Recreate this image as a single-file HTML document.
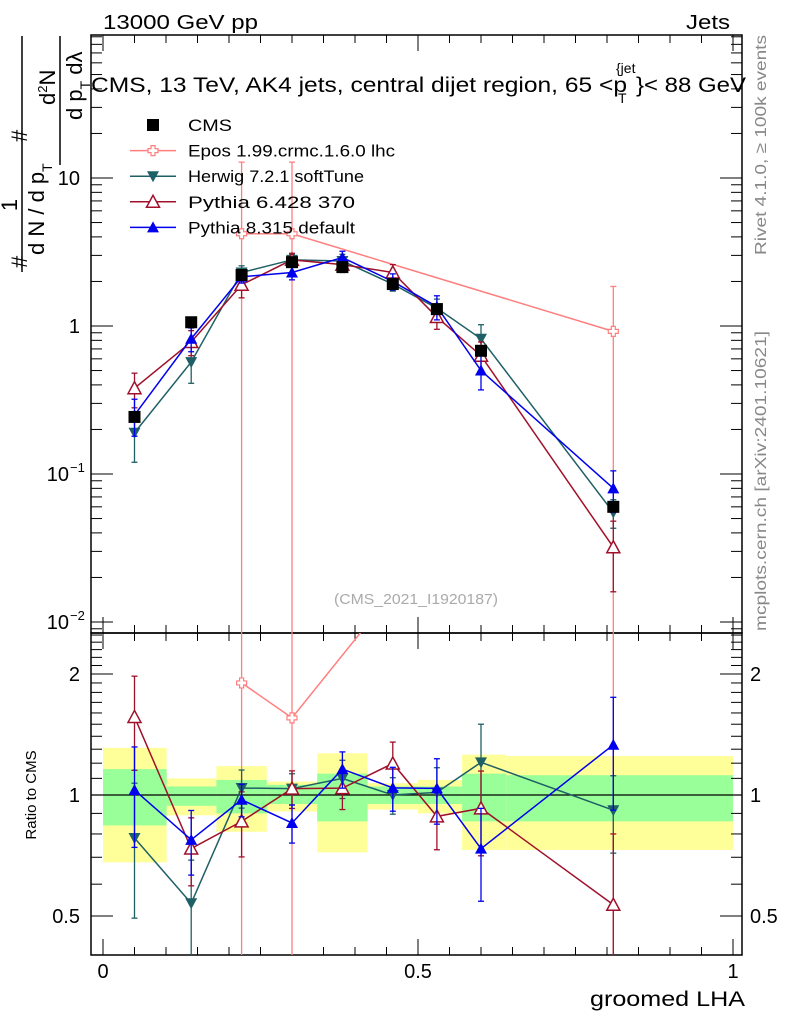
<!DOCTYPE html>
<html><head><meta charset="utf-8"><style>
html,body{margin:0;padding:0;background:#fff;}
svg{display:block;font-family:"Liberation Sans",sans-serif;}
</style></head><body>
<svg id="chart" width="786" height="1024" viewBox="0 0 786 1024" xmlns="http://www.w3.org/2000/svg"></svg>
<script>
const xCenters = [0.05, 0.14, 0.22, 0.30, 0.38, 0.46, 0.53, 0.60, 0.81];
const binEdges = [0, 0.101, 0.18, 0.26, 0.34, 0.42, 0.50, 0.57, 0.64, 1.0];
const cmsVals = [0.243, 1.06, 2.21, 2.7, 2.5, 1.92, 1.3, 0.68, 0.06];
const herwigVals = [0.19, 0.57, 2.3, 2.8, 2.75, 1.92, 1.32, 0.82, 0.055];
const herwigErr = [0.07, 0.16, 0.25, 0.25, 0.3, 0.2, 0.2, 0.2, 0.012];
const py6Vals = [0.38, 0.78, 1.9, 2.8, 2.6, 2.3, 1.15, 0.63, 0.032];
const py6Err = [0.1, 0.15, 0.35, 0.3, 0.3, 0.3, 0.2, 0.15, 0.016];
const py8Vals = [0.25, 0.82, 2.15, 2.3, 2.9, 2.0, 1.35, 0.5, 0.08];
const py8Err = [0.07, 0.15, 0.2, 0.25, 0.3, 0.25, 0.25, 0.13, 0.025];
const eposX = [0.22, 0.30, 0.81];
const eposVals = [4.2, 4.2, 0.92];
const eposUp = [12.8, 12.8, 1.85];
const greenHi = [1.16, 1.05, 1.09, 1.06, 1.13, 1.05, 1.05, 1.13, 1.12];
const greenLo = [0.84, 0.94, 0.90, 0.95, 0.86, 0.95, 0.95, 0.86, 0.86];
const yellowHi = [1.31, 1.10, 1.18, 1.08, 1.27, 1.07, 1.09, 1.26, 1.25];
const yellowLo = [0.68, 0.89, 0.81, 0.91, 0.72, 0.92, 0.90, 0.73, 0.73];
const mainTickVals = [10, 1, 0.1, 0.01];
const mainTickLabels = ["10", "1", "10", "10"];
const mainTickExp = ["", "", "\u22121", "\u22122"];
const ratioTickVals = [2, 1, 0.5];
const ratioTickLabels = ["2", "1", "0.5"];
const xTickVals = [0, 0.5, 1];
const xTickLabels = ["0", "0.5", "1"];

const L=91, R=742, T=35, MB=633, B=955;
const X = v => 103 + 630*v;
const Y = v => 326 - 148*Math.log10(v);
const YR = r => 795 - 121*Math.log2(r);
const NS="http://www.w3.org/2000/svg";
const svg=document.getElementById('chart');
function mk(tag, attrs, parent){const e=document.createElementNS(NS,tag);for(const k in attrs)e.setAttribute(k,attrs[k]);(parent||svg).appendChild(e);return e;}
function txt(s, attrs, parent){const e=mk('text',attrs,parent);e.textContent=s;return e;}

const defs=mk('defs',{});
const c1=mk('clipPath',{id:'cm'},defs);mk('rect',{x:L,y:T,width:R-L,height:MB-T},c1);
const c2=mk('clipPath',{id:'cr'},defs);mk('rect',{x:L,y:MB,width:R-L,height:B-MB},c2);

const bands=mk('g',{'clip-path':'url(#cr)'});


for(let i=0;i<xCenters.length;i++){
  const x0=X(binEdges[i]), x1=X(binEdges[i+1]);
  const ry=mk('rect',{x:x0,y:YR(yellowHi[i]),width:x1-x0,height:YR(yellowLo[i])-YR(yellowHi[i]),fill:'#ffff99'},bands);
  
  
}
for(let i=0;i<xCenters.length;i++){
  const x0=X(binEdges[i]), x1=X(binEdges[i+1]);
  const rg=mk('rect',{x:x0,y:YR(greenHi[i]),width:x1-x0,height:YR(greenLo[i])-YR(greenHi[i]),fill:'#99ff99'},bands);
  
  
}
mk('line',{x1:L,x2:R,y1:YR(1),y2:YR(1),stroke:'#000','stroke-width':1.3});

mk('rect',{x:L,y:T,width:R-L,height:MB-T,fill:'none',stroke:'#000','stroke-width':1.5});
mk('rect',{x:L,y:MB,width:R-L,height:B-MB,fill:'none',stroke:'#000','stroke-width':1.5});

for(let d=-3; d<2; d++){
  for(let m=1;m<10;m++){
    const v=m*Math.pow(10,d); const y=Y(v);
    if(y<T||y>MB) continue;
    const len = m===1?22:11;
    mk('line',{x1:L,x2:L+len,y1:y,y2:y,stroke:'#000','stroke-width':1});
    mk('line',{x1:R,x2:R-len,y1:y,y2:y,stroke:'#000','stroke-width':1});
  }
}
for(let k=4; k<=26; k++){
  const r=k/10;
  const y=YR(r); if(y<MB||y>B) continue;
  const major=(k===5||k===10||k===20);
  const len=major?22:11;
  mk('line',{x1:L,x2:L+len,y1:y,y2:y,stroke:'#000','stroke-width':1});
  mk('line',{x1:R,x2:R-len,y1:y,y2:y,stroke:'#000','stroke-width':1});
}
for(let k=0;k<=20;k++){
  const v=k*0.05; const x=X(v); const major=(k%10===0); const len=major?16:8;
  mk('line',{x1:x,x2:x,y1:B,y2:B-len,stroke:'#000','stroke-width':1});
  mk('line',{x1:x,x2:x,y1:MB,y2:MB-len,stroke:'#000','stroke-width':1});
  mk('line',{x1:x,x2:x,y1:MB,y2:MB+len,stroke:'#000','stroke-width':1});
  mk('line',{x1:x,x2:x,y1:T,y2:T+len,stroke:'#000','stroke-width':1});
}
mainTickVals.forEach((v,i)=>{
  const t=txt(mainTickLabels[i],{x:mainTickExp[i]?69:80,y:Y(v)+7,'font-size':20,'text-anchor':'end'});
  
  
  if(mainTickExp[i]) txt(mainTickExp[i],{x:70,y:Y(v)-2,'font-size':13});
});
ratioTickVals.forEach((v,i)=>{
  const t=txt(ratioTickLabels[i],{x:80,y:YR(v)+7,'font-size':20,'text-anchor':'end'});
  
  
  const t2=txt(ratioTickLabels[i],{x:750,y:YR(v)+7,'font-size':20});
  
  
});
xTickVals.forEach((v,i)=>{
  const t=txt(xTickLabels[i],{x:X(v),y:978,'font-size':20,'text-anchor':'middle'});
  
  
});

function marker(g,type,x,y,color){
  if(type==='sq') mk('rect',{x:x-6,y:y-6,width:12,height:12,fill:color},g);
  else if(type==='dn') mk('polygon',{points:`${x-6},${y-5} ${x+6},${y-5} ${x},${y+6}`,fill:color},g);
  else if(type==='up') mk('polygon',{points:`${x-6},${y+5} ${x+6},${y+5} ${x},${y-6}`,fill:color},g);
  else if(type==='upo') mk('polygon',{points:`${x-6.5},${y+5.5} ${x+6.5},${y+5.5} ${x},${y-6.5}`,fill:'#fff',stroke:color,'stroke-width':1.5},g);
  else if(type==='cross') mk('path',{d:`M${x-2},${y-5}h4v3h3v4h-3v3h-4v-3h-3v-4h3z`,fill:'#fff',stroke:color,'stroke-width':1.2},g);
}
function errbar(g,x,y1,y2,color){
  mk('line',{x1:x,x2:x,y1:y1,y2:y2,stroke:color,'stroke-width':1.3},g);
  mk('line',{x1:x-3,x2:x+3,y1:y1,y2:y1,stroke:color,'stroke-width':1.3},g);
  mk('line',{x1:x-3,x2:x+3,y1:y2,y2:y2,stroke:color,'stroke-width':1.3},g);
}
function series(name,xs,vals,errs,color,type){
  const gm=mk('g',{'clip-path':'url(#cm)'});
  
  
  const gr=mk('g',{'clip-path':'url(#cr)'});
  
  
  mk('polyline',{points:xs.map((x,i)=>X(x)+','+Y(vals[i])).join(' '),fill:'none',stroke:color,'stroke-width':1.5},gm);
  mk('polyline',{points:xs.map((x,i)=>X(x)+','+YR(vals[i]/cmsVals[i])).join(' '),fill:'none',stroke:color,'stroke-width':1.5},gr);
  xs.forEach((x,i)=>{
    const v=vals[i], e=errs[i];
    const lo=Math.max(v-e,1e-4), hi=v+e;
    errbar(gm,X(x),Y(hi),Y(lo),color);
    const c=cmsVals[i];errbar(gr,X(x),YR(hi/c),YR(lo/c),color);
  });
  xs.forEach((x,i)=>{
    marker(gm,type,X(x),Y(vals[i]),color);
    marker(gr,type,X(x),YR(vals[i]/cmsVals[i]),color);
  });
}
(function(){
  const color='#ff7f7f';
  const gm=mk('g',{'clip-path':'url(#cm)'});
  
  
  const gr=mk('g',{'clip-path':'url(#cr)'});
  
  
  mk('polyline',{points:eposX.map((x,i)=>X(x)+','+Y(eposVals[i])).join(' '),fill:'none',stroke:color,'stroke-width':1.5},gm);
  mk('polyline',{points:eposX.map((x,i)=>X(x)+','+YR(eposVals[i]/cmsVals[xCenters.indexOf(x)])).join(' '),fill:'none',stroke:color,'stroke-width':1.5},gr);
  eposX.forEach((x,i)=>{
    const c=cmsVals[xCenters.indexOf(x)];
    errbar(gm,X(x),Y(eposUp[i]),MB+5,color);
    errbar(gr,X(x),YR(eposUp[i]/c),B+5,color);
    marker(gm,'cross',X(x),Y(eposVals[i]),color);
    marker(gr,'cross',X(x),YR(eposVals[i]/c),color);
  });
})();
series('herwig',xCenters,herwigVals,herwigErr,'#1f6066','dn');
series('pythia6',xCenters,py6Vals,py6Err,'#a0102a','upo');
series('pythia8',xCenters,py8Vals,py8Err,'#0000ee','up');
(function(){
  const g=mk('g',{'clip-path':'url(#cm)'});
  
  
  xCenters.forEach((x,i)=>marker(g,'sq',X(x),Y(cmsVals[i]),'#000'));
})();

const legendNames=['CMS','Epos 1.99.crmc.1.6.0 lhc','Herwig 7.2.1 softTune','Pythia 6.428 370','Pythia 8.315 default'];
const legendColors=['#000','#ff7f7f','#1f6066','#a0102a','#0000ee'];
const legendMarks=['sq','cross','dn','upo','up'];
const legendLens=[44,207,176,167,167];
legendNames.forEach((n,i)=>{
  const y=125+25.6*i;
  const g=mk('g',{});
  
  
  if(i>0) mk('line',{x1:130,x2:176,y1:y,y2:y,stroke:legendColors[i],'stroke-width':1.5},g);
  marker(g,legendMarks[i],153,y,legendColors[i]);
  txt(n,{x:188,y:y+6,'font-size':17,textLength:legendLens[i],lengthAdjust:'spacingAndGlyphs'},g);
});
</script>
<svg style="position:absolute;left:0;top:0" width="786" height="1024" font-family="Liberation Sans, sans-serif">
<text x="103" y="29" font-size="20" textLength="155" lengthAdjust="spacingAndGlyphs">13000 GeV pp</text>
<text x="686" y="29" font-size="20" textLength="44" lengthAdjust="spacingAndGlyphs">Jets</text>
<g>
<text x="91" y="92" font-size="21" textLength="536" lengthAdjust="spacingAndGlyphs">CMS, 13 TeV, AK4 jets, central dijet region, 65 &lt;p</text>
<text x="616" y="73" font-size="14">{jet</text>
<text x="618" y="103" font-size="14">T</text>
<text x="636" y="92" font-size="21" textLength="110" lengthAdjust="spacingAndGlyphs">}&lt; 88 GeV</text>
</g>
<text x="416" y="604" font-size="15" fill="#aaa" text-anchor="middle" textLength="164" lengthAdjust="spacingAndGlyphs">(CMS_2021_I1920187)</text>
<text transform="translate(766,255) rotate(-90)" font-size="16" fill="#888" textLength="220" lengthAdjust="spacingAndGlyphs">Rivet 4.1.0, ≥ 100k events</text>
<text transform="translate(766,631) rotate(-90)" font-size="16" fill="#888" textLength="300" lengthAdjust="spacingAndGlyphs">mcplots.cern.ch [arXiv:2401.10621]</text>
<text x="590" y="1006" font-size="21" textLength="155" lengthAdjust="spacingAndGlyphs">groomed LHA</text>
<text transform="translate(36,795) rotate(-90)" font-size="15" text-anchor="middle">Ratio to CMS</text>
<g font-size="22">
<line x1="22" y1="36" x2="22" y2="272" stroke="#000" stroke-width="1.5"/>
<line x1="60" y1="36" x2="60" y2="165" stroke="#000" stroke-width="1.5"/>
<text transform="translate(17,205) rotate(-90)" text-anchor="middle">1</text>
<text transform="translate(27,268) rotate(-90)">#</text>
<text transform="translate(44,255) rotate(-90)">d N / d p<tspan font-size="14" dy="8">T</tspan></text>
<text transform="translate(27,142) rotate(-90)">#</text>
<text transform="translate(55,105) rotate(-90)">d<tspan font-size="13" dy="-8">2</tspan><tspan dy="8">N</tspan></text>
<text transform="translate(82,120) rotate(-90)">d p<tspan font-size="14" dy="8">T</tspan><tspan dy="-8"> dλ</tspan></text>
</g>
</svg>
</body></html>
